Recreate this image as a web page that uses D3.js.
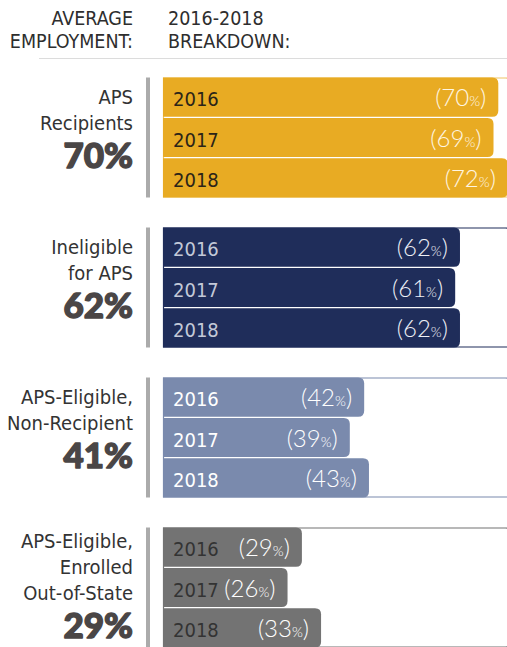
<!DOCTYPE html>
<html>
<head>
<meta charset="utf-8">
<script src="https://cdn.jsdelivr.net/npm/d3@7"></script>
<style>
  body { margin: 0; background: #fff; }
  svg { display: block; }
</style>
</head>
<body>
<svg id="chart" width="507" height="647"></svg>
<script>
// Employment groups, their overall averages and the yearly breakdown
const groupLabels = [
  ["APS", "Recipients"],
  ["Ineligible", "for APS"],
  ["APS-Eligible,", "Non-Recipient"],
  ["APS-Eligible,", "Enrolled", "Out-of-State"]
];
const averages = [70, 62, 41, 29];
const years = ["2016", "2017", "2018"];
const yearValues = [
  [70, 69, 72],
  [62, 61, 62],
  [42, 39, 43],
  [29, 26, 33]
];
const headerLeft = ["AVERAGE", "EMPLOYMENT:"];
const headerRight = ["2016-2018", "BREAKDOWN:"];

const fills = ["#E8AB23", "#1F2D5A", "#7A8AAD", "#737373"];
const yearText = ["#2b2418", "#c3c9d8", "#ffffff", "#333333"];
const valueText = ["#fff6e2", "#eef0f6", "#ffffff", "#ffffff"];

const condensed = "'DejaVu Sans Condensed', 'Liberation Sans Narrow', sans-serif";
const svg = d3.select("#chart");

const x = d3.scaleLinear().domain([0, 100]).range([163, 642]);
const groupY = d3.scaleLinear().domain([0, 1]).range([77.5, 227.5]);
const barY = d3.scaleBand().domain(years).range([0, 120]).paddingInner(0.03);

// Header
const labelRight = 133;
svg.append("g").selectAll("text").data(headerLeft).join("text")
  .attr("x", labelRight).attr("y", (d, i) => 25 + i * 23)
  .attr("text-anchor", "end")
  .style("font-family", condensed).style("font-size", "19.5px").style("fill", "#2e2e2e")
  .text(d => d);
svg.append("g").selectAll("text").data(headerRight).join("text")
  .attr("x", 168).attr("y", (d, i) => 25 + i * 23)
  .style("font-family", condensed).style("font-size", "19.5px").style("fill", "#2e2e2e")
  .text(d => d);
svg.append("line")
  .attr("x1", 39).attr("x2", 507).attr("y1", 58.5).attr("y2", 58.5)
  .attr("stroke", "#dcdcdc").attr("stroke-width", 1.2);

// Rect with rounded right corners
function rightRounded(x0, y0, w, h, r) {
  r = Math.min(r, w, h / 2);
  return `M${x0},${y0}H${x0 + w - r}Q${x0 + w},${y0} ${x0 + w},${y0 + r}` +
         `V${y0 + h - r}Q${x0 + w},${y0 + h} ${x0 + w - r},${y0 + h}H${x0}Z`;
}

groupLabels.forEach((lines, gi) => {
  const top = groupY(gi);
  const g = svg.append("g").attr("transform", `translate(0,${top})`);
  const h = barY.range()[1];

  // outline of the group panel
  g.append("path")
    .attr("d", rightRounded(x(0) + 0.5, 0.5, 508 - x(0) + 6, h - 1, 9))
    .attr("fill", "none").attr("stroke", fills[gi]).attr("stroke-width", 1.2)
    .attr("opacity", gi === 0 ? 0.7 : 1);

  // grey divider
  g.append("rect").attr("x", 146).attr("y", 0).attr("width", 4).attr("height", h)
    .attr("fill", "#ababab");

  // yearly bars
  const rows = years.map((yr, i) => ({ yr, v: yearValues[gi][i] }));
  g.selectAll("path.bar").data(rows).join("path").attr("class", "bar")
    .attr("d", d => rightRounded(x(0), barY(d.yr), x(d.v) - x(0), barY.bandwidth(), 6))
    .attr("fill", fills[gi]);

  g.selectAll("text.year").data(rows).join("text").attr("class", "year")
    .attr("x", x(0) + 10).attr("y", d => barY(d.yr) + barY.bandwidth() / 2 + 9)
    .style("font-family", condensed).style("font-size", "20px").style("fill", yearText[gi])
    .text(d => d.yr);

  const vt = g.selectAll("text.val").data(rows).join("text").attr("class", "val")
    .attr("x", d => x(d.v) - 12).attr("y", d => barY(d.yr) + barY.bandwidth() / 2 + 9)
    .attr("text-anchor", "end")
    .style("font-family", "Lato, sans-serif").style("font-weight", 300)
    .style("font-size", "24px").style("fill", valueText[gi]);
  vt.append("tspan").text(d => "(" + d.v);
  vt.append("tspan").style("font-size", "14px").text("%");
  vt.append("tspan").text(")");

  // group name and overall average
  const bigBase = 90 + (lines.length - 2) * 20;
  g.selectAll("text.name").data(lines).join("text").attr("class", "name")
    .attr("x", labelRight)
    .attr("y", (d, i) => bigBase - 38 - (lines.length - 1 - i) * 26)
    .attr("text-anchor", "end")
    .style("font-family", condensed).style("font-size", "20px").style("fill", "#333333")
    .text(d => d);
  g.append("text")
    .attr("x", labelRight).attr("y", bigBase)
    .attr("text-anchor", "end")
    .style("font-family", "Lato, sans-serif").style("font-weight", 900)
    .style("font-size", "35px").style("fill", "#4a4646")
    .style("stroke", "#4a4646").style("stroke-width", 1.4).style("stroke-linejoin", "round")
    .text(averages[gi] + "%");
});
</script>
</body>
</html>
